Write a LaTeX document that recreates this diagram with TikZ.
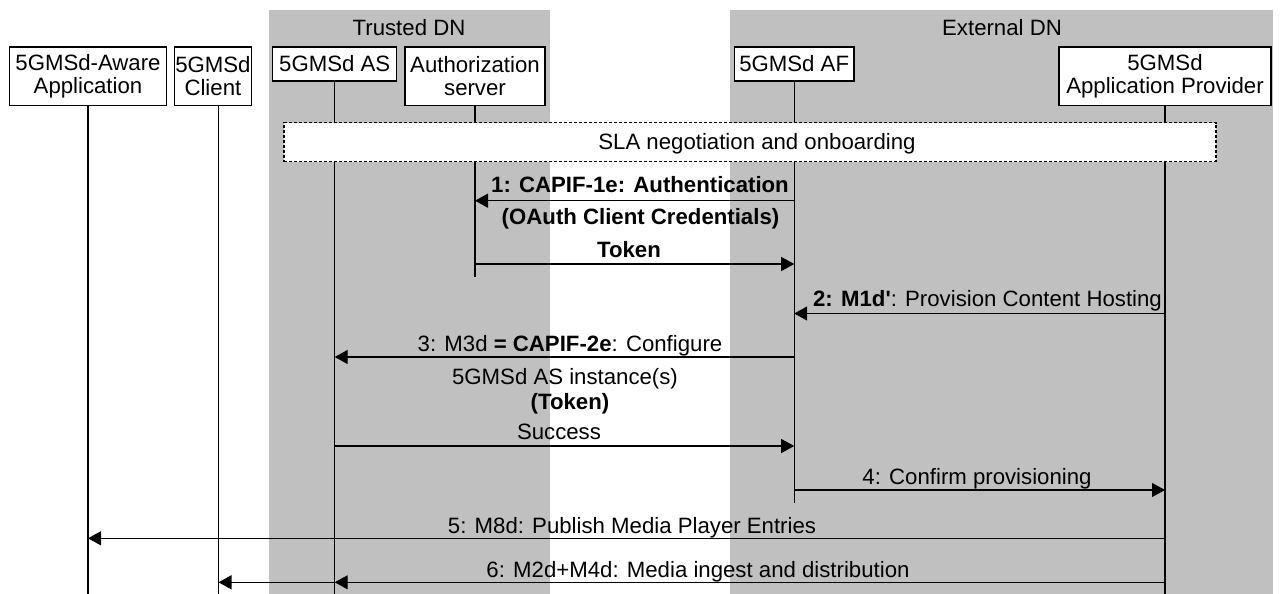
\documentclass[tikz,border=0pt]{standalone}
\usepackage{fontspec}
\setmainfont{Liberation Sans}
\usetikzlibrary{arrows.meta}
\definecolor{dngray}{RGB}{192,192,192}
\begin{document}
\begin{tikzpicture}[x=0.5pt,y=-0.5pt,
  every node/.style={font=\fontsize{11.1}{11.2}\selectfont, text=black},
  actor/.style={draw, line width=0.6pt, fill=white, align=center, inner sep=0pt},
  onebox/.style={actor, minimum height=17pt},
  twobox/.style={actor, minimum height=29.25pt},
  life/.style={line width=0.6pt},
  msg/.style={line width=0.6pt, -{Triangle[length=6.5pt,width=7pt]}},
  lbl/.style={anchor=base, inner sep=0pt},
  slabox/.style={draw, dash pattern=on 1.5pt off 1pt, line width=0.6pt, fill=white, inner sep=0pt}]
\useasboundingbox (0,0) rectangle (1281,594);
% data network regions
\fill[dngray] (269,10) rectangle (550,594);
\fill[dngray] (730,10) rectangle (1273,594);
\node[lbl] (tdn) at (409,35) {Trusted DN};
\node[lbl] (edn) at (1002,35) {External DN};
% actors
\node[twobox, minimum width=78.7pt] (aw) at (88,76.25) {5GMSd-Aware\\Application};
\node[twobox, minimum width=38.8pt] (cl) at (212.9,76.25) {5GMSd\\Client};
\node[onebox, minimum width=62pt] (as) at (334.7,64) {5GMSd AS};
\node[twobox, minimum width=70pt] (au) at (475,76.25) {Authorization\\server};
\node[onebox, minimum width=59.85pt] (af) at (794.2,64) {5GMSd AF};
\node[twobox, minimum width=106pt] (ap) at (1165,76.25) {5GMSd\\Application Provider};
% lifelines
\coordinate (awEnd) at (88,594);
\coordinate (clTop) at (218.5,105.5);
\coordinate (clEnd) at (218.5,594);
\coordinate (asEnd) at (334.7,594);
\coordinate (auEnd) at (475,277);
\coordinate (afEnd) at (794.2,503);
\coordinate (apEnd) at (1165,594);
\draw[life] (aw.south) -- (awEnd);
\draw[life] (clTop) -- (clEnd);
\draw[life] (as.south) -- (asEnd);
\draw[life] (au.south) -- (auEnd);
\draw[life] (af.south) -- (afEnd);
\draw[life] (ap.south) -- (apEnd);
% SLA
\node[slabox, minimum width=466pt, minimum height=19.5pt] (sla) at (750,142) {};
\node[lbl] (slat) at (757,149.7) {SLA negotiation and onboarding};
% message coordinates
\coordinate (m1a) at (794.2,200.7); \coordinate (m1b) at (475,200.7);
\coordinate (m2a) at (475,264);     \coordinate (m2b) at (794.2,264);
\coordinate (m3a) at (1165,313.5);  \coordinate (m3b) at (794.2,313.5);
\coordinate (m4a) at (794.2,357);   \coordinate (m4b) at (334.7,357);
\coordinate (m5a) at (334.7,446);   \coordinate (m5b) at (794.2,446);
\coordinate (m6a) at (794.2,490);   \coordinate (m6b) at (1165,490);
\coordinate (m7a) at (1165,538.3);  \coordinate (m7b) at (88,538.3);
\coordinate (m8a) at (1165,582.3);  \coordinate (m8b) at (334.7,582.3);
\coordinate (m8c) at (218.5,582.3);
\draw[msg] (m1a) -- (m1b);
\draw[msg] (m2a) -- (m2b);
\draw[msg] (m3a) -- (m3b);
\draw[msg] (m4a) -- (m4b);
\draw[msg] (m5a) -- (m5b);
\draw[msg] (m6a) -- (m6b);
\draw[msg] (m7a) -- (m7b);
\draw[msg] (m8a) -- (m8b);
\draw[msg] (m8b) -- (m8c);
% labels
\node[lbl] (l1) at (640,192.7) {\textbf{1: CAPIF-1e: Authentication}};
\node[lbl] (l1b) at (640.5,224) {\textbf{(OAuth Client Credentials)}};
\node[lbl] (l2) at (629,257) {\textbf{Token}};
\node[lbl] (l3) at (987.5,306) {\textbf{2: M1d\textquotesingle}: Provision Content Hosting};
\node[lbl] (l4) at (570,351) {3: M3d \textbf{= CAPIF-2e}: Configure};
\node[lbl] (l4b) at (565,384) {5GMSd AS instance(s)};
\node[lbl] (l4c) at (570,409.5) {\textbf{(Token)}};
\node[lbl] (l5) at (559,439.5) {Success};
\node[lbl] (l6) at (977,484.5) {4: Confirm provisioning};
\node[lbl] (l7) at (632,533) {5: M8d: Publish Media Player Entries};
\node[lbl] (l8) at (698,577) {6: M2d+M4d: Media ingest and distribution};
\end{tikzpicture}
\end{document}
